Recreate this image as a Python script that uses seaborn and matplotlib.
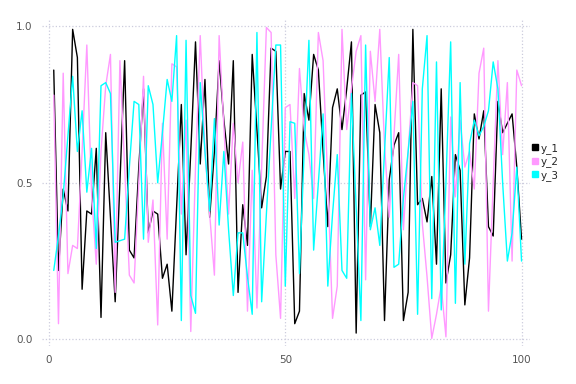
import numpy as np
import pandas as pd
import seaborn as sns
import matplotlib.pyplot as plt
from matplotlib.lines import Line2D

x = list(range(1, 101))

y_1 = [0.86, 0.22, 0.48, 0.41, 0.99, 0.90, 0.16, 0.41, 0.40, 0.61,
       0.07, 0.66, 0.39, 0.12, 0.50, 0.89, 0.285, 0.26, 0.55, 0.80,
       0.34, 0.41, 0.40, 0.195, 0.24, 0.09, 0.42, 0.75, 0.27, 0.60,
       0.95, 0.56, 0.83, 0.39, 0.60, 0.89, 0.70, 0.56, 0.89, 0.15,
       0.43, 0.30, 0.91, 0.67, 0.42, 0.52, 0.93, 0.92, 0.48, 0.60,
       0.60, 0.05, 0.09, 0.785, 0.70, 0.91, 0.86, 0.60, 0.36, 0.74,
       0.80, 0.67, 0.80, 0.95, 0.02, 0.78, 0.79, 0.36, 0.75, 0.66,
       0.06, 0.51, 0.62, 0.66, 0.06, 0.15, 0.99, 0.43, 0.45, 0.375,
       0.52, 0.24, 0.80, 0.18, 0.27, 0.59, 0.54, 0.11, 0.26, 0.72,
       0.64, 0.73, 0.36, 0.33, 0.76, 0.66, 0.69, 0.72, 0.55, 0.32]

y_2 = [0.78, 0.05, 0.85, 0.21, 0.30, 0.29, 0.60, 0.94, 0.47, 0.24,
       0.60, 0.81, 0.91, 0.15, 0.89, 0.55, 0.205, 0.18, 0.50, 0.84,
       0.31, 0.445, 0.046, 0.69, 0.32, 0.88, 0.87, 0.40, 0.70, 0.025,
       0.55, 0.97, 0.60, 0.40, 0.205, 0.97, 0.68, 0.40, 0.69, 0.50,
       0.63, 0.09, 0.54, 0.10, 0.55, 0.996, 0.98, 0.27, 0.067, 0.74,
       0.75, 0.45, 0.865, 0.67, 0.59, 0.45, 0.98, 0.89, 0.50, 0.067,
       0.17, 0.99, 0.67, 0.80, 0.92, 0.97, 0.19, 0.92, 0.76, 0.99,
       0.62, 0.39, 0.65, 0.91, 0.35, 0.60, 0.82, 0.81, 0.37, 0.20,
       0.003, 0.08, 0.17, 0.008, 0.71, 0.455, 0.70, 0.55, 0.60, 0.48,
       0.85, 0.93, 0.09, 0.50, 0.89, 0.59, 0.82, 0.25, 0.86, 0.81]

y_3 = [0.22, 0.33, 0.46, 0.65, 0.84, 0.60, 0.73, 0.47, 0.61, 0.29,
       0.81, 0.82, 0.785, 0.31, 0.315, 0.32, 0.55, 0.76, 0.75, 0.32,
       0.81, 0.75, 0.50, 0.66, 0.83, 0.76, 0.97, 0.06, 0.955, 0.14,
       0.083, 0.82, 0.60, 0.41, 0.705, 0.365, 0.60, 0.35, 0.14, 0.34,
       0.34, 0.20, 0.08, 0.98, 0.12, 0.40, 0.67, 0.94, 0.94, 0.17,
       0.695, 0.69, 0.21, 0.60, 0.955, 0.285, 0.50, 0.72, 0.17, 0.40,
       0.59, 0.22, 0.195, 0.785, 0.42, 0.06, 0.94, 0.35, 0.42, 0.30,
       0.60, 0.90, 0.23, 0.24, 0.45, 0.60, 0.76, 0.08, 0.80, 0.97,
       0.13, 0.886, 0.094, 0.50, 0.95, 0.115, 0.82, 0.24, 0.625, 0.70,
       0.65, 0.68, 0.73, 0.886, 0.80, 0.50, 0.25, 0.34, 0.55, 0.25]

names = ['y_1', 'y_2', 'y_3']
colors = ['#000000', '#ff99ff', '#00ffff']

df = pd.DataFrame({'x': x * 3,
                   'value': y_1 + y_2 + y_3,
                   'series': [n for n in names for _ in x]})

sns.set_style('white')
plt.rcParams['font.family'] = ['DejaVu Sans']

fig = plt.figure(figsize=(5.76, 3.84), dpi=100)
ax = fig.add_axes([0.0724, 0.10, 0.847, 0.848])

sns.lineplot(data=df, x='x', y='value', hue='series', palette=colors,
             linewidth=1.0, legend=False, ax=ax)

ax.set_xlim(-1.55, 101.7)
ax.set_ylim(-0.02, 1.02)
ax.set_xticks([0, 50, 100])
ax.set_yticks([0.0, 0.5, 1.0])
ax.set_yticklabels(['0.0', '0.5', '1.0'])
ax.set_xlabel('')
ax.set_ylabel('')
ax.grid(True, linestyle=':', color='#ccccdd', linewidth=0.9)
for s in ax.spines.values():
    s.set_visible(False)
ax.tick_params(axis='both', length=3, color='#ccccdd', labelcolor='#555555',
               labelsize=7.5)

handles = [Line2D([], [], marker='s', linestyle='', color=c, markersize=4.5)
           for c in colors]
ax.legend(handles, names, loc='center left', bbox_to_anchor=(0.99, 0.565),
          frameon=False, fontsize=7.5, handletextpad=0.1, labelspacing=0.25,
          handlelength=0.8, borderaxespad=0.2)

fig.savefig('out.png', dpi=100)
